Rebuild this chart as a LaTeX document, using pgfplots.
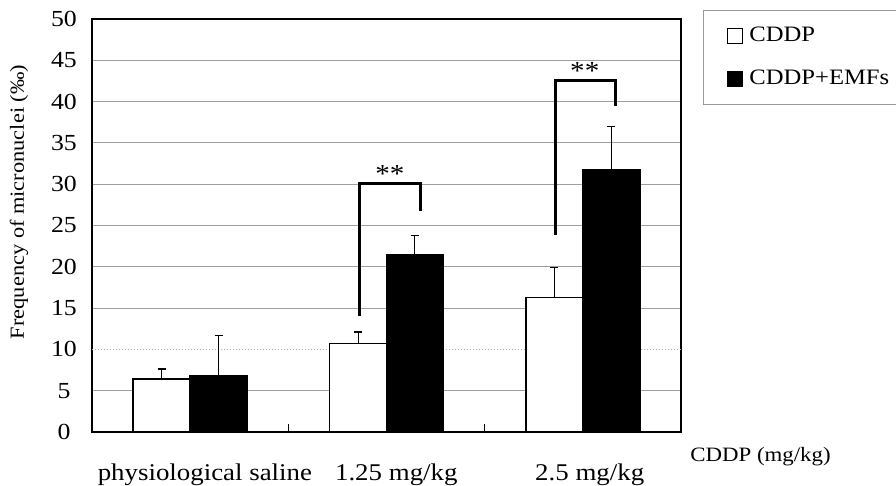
\documentclass[border=0pt]{standalone}
\usepackage{pgfplots}
\pgfplotsset{compat=1.18}
\usepackage{fontspec}
\setmainfont[FakeStretch=1.12]{Liberation Serif}

\pgfplotsset{sqlegend/.style={legend image code/.code={\draw[##1, line width=0.5pt] (0pt,-3.8pt) rectangle (7.6pt,3.8pt);}}}

\begin{document}
\begin{tikzpicture}
\path[use as bounding box, clip] (0,0) rectangle (448pt,243pt);
\begin{axis}[
  at={(46pt,27pt)}, anchor=south west,
  scale only axis, width=294.5pt, height=206.5pt,
  clip mode=individual,
  xmin=-0.5, xmax=2.5, ymin=0, ymax=50,
  ytick={0,5,15,20,25,30,35,40,45,50},
  extra y ticks={10},
  extra y tick style={grid style={gray!60, densely dotted, line width=0.5pt}},
  ymajorgrids, grid style={gray!75, line width=0.5pt},
  major tick length=0pt,
  tick pos=left,
  xtick={0.075,1.05,2.035},
  xticklabels={physiological saline, 1.25 mg/kg, 2.5 mg/kg},
  extra x ticks={0.5,1.5}, extra x tick labels={},
  extra x tick style={major tick length=4pt, tick align=inside, tick style={black, line width=0.5pt}},
  axis line style={black, line width=0.7pt},
  /pgf/number format/assume math mode=true,
  yticklabel style={font=\fontsize{11.5}{13}\selectfont, anchor=center, xshift=-14pt},
  xticklabel style={font=\fontsize{12}{14}\selectfont, yshift=-12.5pt},
  ylabel={Frequency of micronuclei (‰)},
  ylabel style={font=\fontsize{10}{12}\selectfont, at={(axis description cs:-0.124,0.557)}, anchor=center},
  legend style={at={(axis description cs:1.037,1.022)}, anchor=north west, draw=gray!80, fill=white,
    font=\fontsize{11}{13}\selectfont, row sep=8.5pt, inner xsep=12pt, inner ysep=6.5pt,
    nodes={inner xsep=3pt}},
  legend cell align=left,
]
% CDDP (white), plotted at category position - 0.145
\addplot[ybar, bar width=0.29, bar shift=0, fill=white, draw=black, line width=0.8pt, sqlegend,
  error bars/.cd, y dir=plus, y explicit,
  error bar style={black, line width=0.5pt},
  error mark options={black, line width=0.8pt, mark size=2pt, rotate=90}]
  coordinates {(-0.145,6.4) +- (0,1.2) (0.855,10.7) +- (0,1.4) (1.855,16.3) +- (0,3.6)};
\addlegendentry{CDDP}
% CDDP+EMFs (black), plotted at category position + 0.145
\addplot[ybar, bar width=0.29, bar shift=0, fill=black, draw=black, line width=0.8pt, sqlegend,
  error bars/.cd, y dir=plus, y explicit,
  error bar style={black, line width=0.5pt},
  error mark options={black, line width=0.8pt, mark size=2pt, rotate=90}]
  coordinates {(0.145,6.8) +- (0,4.9) (1.145,21.5) +- (0,2.3) (2.145,31.8) +- (0,5.2)};
\addlegendentry{CDDP+EMFs}
\addplot[black, line width=1.5pt, mark=none, forget plot] coordinates {(0.863,14.0) (0.863,30.1) (1.171,30.1) (1.171,26.7)};
\addplot[black, line width=1.5pt, mark=none, forget plot] coordinates {(1.86,23.8) (1.86,42.5) (2.168,42.5) (2.168,39.5)};
\node[font=\fontsize{13}{15}\selectfont, anchor=base] at (axis cs:1.017,30.2) {**};
\node[font=\fontsize{13}{15}\selectfont, anchor=base] at (axis cs:2.01,42.7) {**};
\node[anchor=base west, font=\fontsize{10.2}{12}\selectfont] at (axis description cs:1.004,-0.0726) {CDDP (mg/kg)};
\end{axis}
\end{tikzpicture}
\end{document}
